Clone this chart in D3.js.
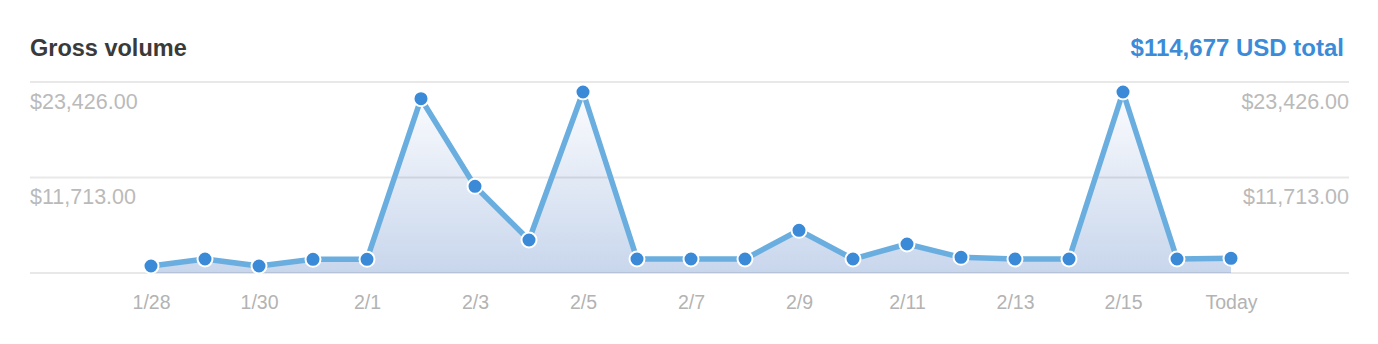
<!DOCTYPE html>
<html>
<head>
<meta charset="utf-8">
<script src="https://cdn.jsdelivr.net/npm/d3@7"></script>
<style>
  body { margin: 0; background: #fff; }
  svg { display: block; font-family: "Liberation Sans", Arial, Helvetica, sans-serif; }
</style>
</head>
<body>
<svg id="chart" width="1378" height="344"></svg>
<script>
// daily gross volume, 1/28 .. today
var days = ['1/28', '1/29', '1/30', '1/31', '2/1', '2/2', '2/3', '2/4', '2/5', '2/6',
    '2/7', '2/8', '2/9', '2/10', '2/11', '2/12', '2/13', '2/14', '2/15', '2/16', 'Today'];
var volumes = [858, 1717, 858, 1680, 1680, 21378, 10634, 4047, 22200, 1717,
    1717, 1717, 5237, 1717, 3557, 1926, 1717, 1717, 22200, 1717, 1803];
var tickDays = ['1/28', '1/30', '2/1', '2/3', '2/5', '2/7', '2/9', '2/11', '2/13', '2/15', 'Today'];
var gridValues = [0, 11713, 23426];
var labelValues = [11713, 23426];
var title = 'Gross volume';
var totalText = '$114,677 USD total';

var svg = d3.select('#chart');

var x = d3.scalePoint()
    .domain(days)
    .range([151, 1231]);

var y = d3.scaleLinear()
    .domain([0, 23426])
    .range([273, 82]);

var fmt = function (v) { return '$' + d3.format(',.2f')(v); };

// header
svg.append('text')
    .attr('x', 30)
    .attr('y', 56)
    .text(title)
    .attr('fill', '#3a3a3a')
    .attr('font-size', 23.5)
    .style('font-weight', 'bold');

svg.append('text')
    .attr('x', 1344)
    .attr('y', 56)
    .attr('text-anchor', 'end')
    .text(totalText)
    .attr('fill', '#3b8bd9')
    .attr('font-size', 24)
    .style('font-weight', 'bold');

// area gradient
var defs = svg.append('defs');
var grad = defs.append('linearGradient')
    .attr('id', 'areaGrad')
    .attr('gradientUnits', 'userSpaceOnUse')
    .attr('x1', 0).attr('x2', 0)
    .attr('y1', y(d3.max(volumes)))
    .attr('y2', y(0));
grad.append('stop').attr('offset', '0%').attr('stop-color', '#fbfcfe');
grad.append('stop').attr('offset', '100%').attr('stop-color', '#c8d6ec');

var data = days.map(function (d, i) { return { day: d, v: volumes[i] }; });

var area = d3.area()
    .x(function (d) { return x(d.day); })
    .y0(y(0))
    .y1(function (d) { return y(d.v); });

svg.append('path')
    .datum(data)
    .attr('d', area)
    .style('fill', 'url(#areaGrad)');

// grid lines
svg.selectAll('line.grid')
    .data(gridValues)
    .enter()
    .append('line')
    .attr('class', 'grid')
    .attr('x1', 30)
    .attr('x2', 1349)
    .attr('y1', function (d) { return y(d); })
    .attr('y2', function (d) { return y(d); })
    .style('stroke', 'rgba(0,0,0,0.09)')
    .style('stroke-width', 2);

// value labels on both sides
svg.selectAll('text.left')
    .data(labelValues)
    .enter()
    .append('text')
    .attr('class', 'left')
    .attr('x', 30)
    .attr('y', function (d) { return y(d) + 26.5; })
    .text(fmt)
    .attr('fill', '#bababa')
    .attr('font-size', 21.5);

svg.selectAll('text.right')
    .data(labelValues)
    .enter()
    .append('text')
    .attr('class', 'right')
    .attr('x', 1349)
    .attr('y', function (d) { return y(d) + 26.5; })
    .attr('text-anchor', 'end')
    .text(fmt)
    .attr('fill', '#bababa')
    .attr('font-size', 21.5);

// x axis labels
var xAxis = d3.axisBottom(x)
    .tickValues(tickDays)
    .tickSize(0)
    .tickPadding(0);

var gx = svg.append('g')
    .attr('transform', 'translate(0,294)')
    .call(xAxis);
gx.select('.domain').remove();
gx.selectAll('text')
    .attr('dy', '0.75em')
    .attr('fill', '#b3b3b3')
    .attr('font-size', 19.5)
    .attr('font-family', '"Liberation Sans", Arial, Helvetica, sans-serif');

// line
var line = d3.line()
    .x(function (d) { return x(d.day); })
    .y(function (d) { return y(d.v); });

svg.append('path')
    .datum(data)
    .attr('d', line)
    .style('fill', 'none')
    .style('stroke', '#6aaee0')
    .style('stroke-width', 5.5)
    .style('stroke-linejoin', 'round');

// points
svg.selectAll('circle')
    .data(data)
    .enter()
    .append('circle')
    .attr('cx', function (d) { return x(d.day); })
    .attr('cy', function (d) { return y(d.v); })
    .attr('r', 7.5)
    .style('fill', '#3a8ad8')
    .style('stroke', '#fff')
    .style('stroke-width', 2);
</script>
</body>
</html>
